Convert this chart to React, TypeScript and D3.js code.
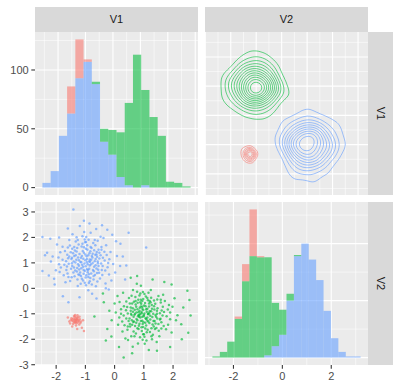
import React, { useEffect, useRef } from 'react'
import { contourDensity, extent, geoPath, max, range, scaleLinear, select } from 'd3'

// histogram counts (stacked: blue bottom, green, red top)
const v1BinStart = -2.57
const v1BinWidth = 0.3
const v1Blue = [4, 14, 44, 63, 93, 107, 88, 39, 28, 9, 2, 0, 2, 0, 0, 0, 0, 0]
const v1Green = [0, 0, 0, 0, 0, 0, 2, 11, 21, 38, 70, 113, 81, 60, 44, 5, 4, 1]
const v1Red = [0, 0, 0, 23, 33, 2, 0, 0, 0, 0, 0, 0, 0, 0, 0, 0, 0, 0]

const v2BinStart = -2.86
const v2BinWidth = 0.303
const v2Blue = [0, 0, 0, 0, 0, 0, 0, 2, 10, 20, 50, 89, 100, 86, 68, 41, 17, 5, 1, 1]
const v2Green = [1, 5, 14, 34, 67, 89, 88, 86, 38, 22, 6, 1, 0, 0, 0, 0, 0, 0, 0, 0]
const v2Red = [0, 0, 0, 2, 15, 41, 1, 0, 0, 0, 0, 0, 0, 0, 0, 0, 0, 0, 0, 0]

// points as [V1, V2]
const bluePts = [
  [-0.95, 1.02], [-1.21, 0.74], [-0.62, 1.33], [-1.48, 1.15], [-0.83, 0.41], [-1.05, 1.61], [-0.41, 0.88], [-1.72, 0.93], [-0.98, 0.12], [-1.33, 1.84],
  [-0.71, 0.67], [-1.12, 1.27], [-0.55, 1.52], [-1.61, 0.58], [-0.89, 1.91], [-1.27, 0.35], [-0.34, 1.09], [-1.86, 1.42], [-0.77, -0.21], [-1.04, 2.21],
  [-1.39, 0.82], [-0.68, 1.06], [-0.19, 0.54], [-1.53, 1.68], [-0.92, 0.63], [-1.17, 1.03], [-0.48, 2.03], [-2.01, 0.71], [-0.86, 1.38], [-1.26, 0.09],
  [-0.59, 0.27], [-1.44, 2.12], [-0.99, 0.87], [-0.27, 1.31], [-1.68, 0.24], [-1.09, 1.47], [-0.73, 1.78], [-1.92, 1.21], [-0.44, 0.72], [-1.31, 1.12],
  [-0.81, 0.95], [-1.15, 0.48], [-0.63, 2.33], [-1.57, 0.97], [-0.05, 0.96], [-1.36, 1.49], [-0.88, 0.21], [-2.18, 1.05], [-0.52, 1.17], [-1.02, 0.68],
  [-1.23, 1.72], [-0.67, 0.52], [-1.78, 1.63], [-0.96, 1.26], [-0.31, 0.19], [-1.47, 0.44], [-0.79, 1.58], [-1.11, 0.93], [-0.14, 1.43], [-1.62, 1.32],
  [-0.9, -0.08], [-1.29, 0.66], [-0.57, 0.99], [-2.07, 0.38], [-0.85, 1.13], [-1.19, 2.45], [-0.45, 1.62], [-1.41, 0.62], [-1.01, 1.81], [-0.7, 0.85],
  [-1.55, 1.9], [-0.24, 0.83], [-1.08, 0.31], [-0.6, 1.24], [-1.84, 0.82], [-0.93, 1.52], [-1.34, 1.01], [-0.38, 1.98], [-1.66, 1.06], [-0.8, 0.58],
  [-1.2, 1.35], [0.08, 1.27], [-0.99, 0.43], [-1.49, 0.77], [-0.66, 1.69], [-2.31, 1.4], [-0.87, 0.77], [-1.13, 1.64], [-0.5, 0.39], [-1.38, 1.27],
  [-0.76, 1.21], [-1.03, 0.98], [-1.24, 0.54], [-0.35, 1.44], [-1.74, 0.51], [-0.97, 2.02], [-0.64, 0.08], [-1.45, 1.55], [-0.18, 1.14], [-1.16, 0.18],
  [-0.83, 1.46], [-1.59, 1.18], [-0.46, 0.98], [-1.07, 1.16], [-0.72, 0.35], [-1.97, 1.72], [-0.91, 0.72], [-1.3, 2.01], [-0.58, 1.87], [-1.22, 0.89],
  [0.02, 0.62], [-1.52, 0.29], [-0.84, 1.04], [-1.06, 0.57], [-0.29, 1.69], [-1.42, 1.38], [-0.75, 1.36], [-1.88, 0.64], [-0.94, 1.69], [-0.53, 0.61],
  [-1.28, 1.58], [-0.11, 0.31], [-1.63, 0.86], [-1.0, 1.33], [-0.65, 0.91], [-1.37, 0.47], [-0.82, 2.18], [-1.14, 0.79], [-0.42, 0.52], [-2.12, 1.25],
  [-0.97, 0.51], [-1.25, 1.21], [-0.61, 1.43], [-1.7, 1.47], [-0.87, 1.05], [0.19, 0.88], [-1.1, 2.05], [-0.56, 0.73], [-1.46, 0.99], [-0.78, 0.15],
  [-1.0, 1.1], [-0.85, 0.9], [-1.15, 1.2], [-0.75, 1.0], [-1.25, 0.95], [-0.95, 0.75], [-1.05, 1.4], [-0.65, 1.15], [-1.35, 0.7], [-0.9, 1.3],
  [-1.18, 0.62], [-0.72, 0.48], [-1.4, 1.05], [-0.58, 1.05], [-1.08, 0.85], [-0.82, 1.62], [-1.3, 1.45], [-0.48, 1.3], [-1.55, 1.25], [-0.98, 1.55],
  [-1.12, 0.38], [-0.62, 0.78], [-1.45, 0.88], [-0.88, 0.55], [-1.22, 1.1], [-0.78, 1.27], [-1.02, 1.92], [-0.4, 1.2], [-1.65, 0.72], [-0.92, 0.95],
  [-1.28, 0.8], [-0.7, 1.5], [-1.5, 1.42], [-0.55, 0.88], [-1.1, 1.75], [-0.85, 0.28], [-1.38, 1.62], [-0.32, 0.7], [-1.78, 1.12], [-0.95, 1.15],
  [-1.2, 0.52], [-0.68, 1.9], [-1.58, 0.45], [-0.45, 1.52], [-1.06, 0.72], [-0.8, 1.12], [-1.33, 1.3], [-0.6, 0.6], [-1.9, 0.95], [-0.98, 1.82],
  [-1.14, 1.02], [-0.74, 0.72], [-1.46, 1.2], [-0.52, 1.4], [-1.26, 1.9], [-0.9, 0.45], [-1.6, 1.6], [-0.22, 1.0], [-1.02, 0.22], [-0.66, 1.32],
  [-2.47, 2.02], [-2.47, 0.68], [0.48, 2.18], [1.08, 1.6], [-1.41, 3.1], [-1.58, -0.55], [-1.77, -0.31], [-2.38, 1.3], [-0.86, 2.55], [0.28, 1.25],
  [0.36, 0.35], [-0.2, -0.05], [-0.43, 2.48], [-2.25, 0.5], [-1.9, 2.0], [-0.08, 2.1], [0.2, 1.75], [-1.2, -0.35], [-0.62, -0.4], [-2.2, 1.95],
  [-1.6, 2.35], [-0.3, 0.0], [0.05, 1.85], [-2.05, 0.15], [-1.05, 2.65], [0.4, 0.9], [-0.25, 2.3],
]

const greenPts = [
  [0.93, -0.98], [1.18, -0.71], [0.64, -1.32], [1.42, -1.12], [0.81, -0.45], [1.05, -1.58], [0.39, -0.86], [1.69, -0.93], [0.97, -0.14], [1.31, -1.82],
  [0.72, -0.63], [1.12, -1.26], [0.53, -1.5], [1.58, -0.56], [0.87, -1.92], [1.25, -0.37], [0.31, -1.07], [1.83, -1.43], [0.76, 0.18], [1.03, -2.18],
  [1.36, -0.83], [0.68, -1.04], [0.17, -0.54], [1.51, -1.67], [0.91, -0.61], [1.15, -1.02], [0.46, -2.03], [1.98, -0.72], [0.85, -1.39], [1.24, -0.07],
  [0.58, -0.29], [1.44, -2.11], [0.98, -0.85], [0.26, -1.3], [1.66, -0.25], [1.08, -1.46], [0.73, -1.77], [1.9, -1.21], [0.43, -0.73], [1.29, -1.13],
  [0.82, -0.94], [1.14, -0.47], [0.62, -2.29], [1.55, -0.98], [0.04, -0.95], [1.34, -1.5], [0.88, -0.2], [2.15, -1.06], [0.51, -1.18], [1.01, -0.67],
  [1.21, -1.71], [0.66, -0.53], [1.76, -1.61], [0.95, -1.27], [0.29, -0.17], [1.46, -0.44], [0.78, -1.57], [1.1, -0.92], [0.12, -1.43], [1.6, -1.33],
  [0.9, 0.1], [1.27, -0.65], [0.56, -1.0], [2.05, -0.39], [0.84, -1.12], [1.17, -2.42], [0.44, -1.63], [1.39, -0.61], [1.0, -1.8], [0.69, -0.84],
  [1.53, -1.88], [0.22, -0.82], [1.07, -0.32], [0.59, -1.25], [1.82, -0.83], [0.92, -1.53], [1.32, -1.0], [0.37, -1.97], [1.64, -1.07], [0.79, -0.57],
  [1.19, -1.36], [-0.1, -1.25], [0.98, -0.42], [1.47, -0.78], [0.65, -1.7], [2.28, -1.41], [0.86, -0.76], [1.13, -1.63], [0.49, -0.38], [1.37, -1.28],
  [0.75, -1.2], [1.02, -0.99], [1.23, -0.55], [0.34, -1.45], [1.72, -0.5], [0.96, -2.02], [0.63, -0.07], [1.43, -1.56], [0.16, -1.15], [1.16, -0.17],
  [0.83, -1.47], [1.57, -1.19], [0.45, -0.99], [1.06, -1.17], [0.71, -0.34], [1.95, -1.73], [0.9, -0.71], [1.28, -2.0], [0.57, -1.88], [1.2, -0.9],
  [0.0, -0.6], [1.5, -0.3], [0.82, -1.05], [1.04, -0.58], [0.27, -1.7], [1.4, -1.38], [0.74, -1.35], [1.86, -0.65], [0.93, -1.68], [0.52, -0.6],
  [1.26, -1.57], [0.1, -0.3], [1.61, -0.87], [0.99, -1.33], [0.63, -0.92], [1.35, -0.48], [0.8, -2.17], [1.12, -0.8], [0.4, -0.52], [2.1, -1.25],
  [0.95, -0.5], [1.22, -1.22], [0.6, -1.43], [1.68, -1.48], [0.85, -1.05], [-0.18, -0.88], [1.09, -2.05], [0.55, -0.75], [1.45, -1.0], [0.77, -0.13],
  [0.88, -1.15], [1.0, -1.1], [0.7, -1.0], [1.15, -1.3], [0.95, -0.8],
  [1.0, -1.05], [0.85, -0.88], [1.12, -1.15], [0.75, -0.95], [1.25, -0.9], [0.95, -0.72], [1.05, -1.35], [0.65, -1.12], [1.35, -0.7], [0.9, -1.28],
  [1.18, -0.6], [0.72, -0.5], [1.4, -1.05], [0.58, -1.05], [1.08, -0.82], [0.82, -1.6], [1.3, -1.42], [0.48, -1.28], [1.55, -1.22], [0.98, -1.52],
  [1.12, -0.38], [0.62, -0.78], [1.45, -0.88], [0.88, -0.55], [1.22, -1.08], [0.78, -1.25], [1.02, -1.9], [0.4, -1.18], [1.65, -0.72], [0.92, -0.92],
  [1.28, -0.8], [0.7, -1.48], [1.5, -1.4], [0.55, -0.88], [1.1, -1.72], [0.85, -0.28], [1.38, -1.6], [0.32, -0.7], [1.78, -1.1], [0.95, -1.12],
  [1.2, -0.5], [0.68, -1.88], [1.58, -0.45], [0.45, -1.5], [1.06, -0.7], [0.8, -1.1], [1.33, -1.28], [0.6, -0.6], [1.9, -0.95], [0.98, -1.8],
  [1.14, -1.0], [0.74, -0.72], [1.46, -1.18], [0.52, -1.4], [1.26, -1.88], [0.9, -0.45], [1.6, -1.58], [0.22, -1.0], [1.02, -0.22], [0.66, -1.3],
  [0.88, -1.0], [1.08, -1.2], [0.78, -0.82], [1.18, -0.98], [0.96, -1.4],
  [0.31, -2.72], [2.6, -1.07], [2.56, -0.46], [2.49, -0.09], [2.52, -1.74], [-0.69, -1.11], [0.77, 0.48], [-0.11, -1.89], [-0.37, -0.55], [0.55, 0.42],
  [1.7, 0.25], [1.95, 0.15], [-0.25, -1.6], [0.15, -2.3], [1.45, -2.45], [2.3, -2.0], [0.6, -2.55], [1.9, -2.3], [-0.4, -0.2], [1.3, 0.35],
  [2.35, -0.75], [-0.3, -2.05],
]

const redPts = [
  [-1.33, -1.25], [-1.28, -1.19], [-1.4, -1.31], [-1.22, -1.28], [-1.36, -1.12], [-1.3, -1.37], [-1.45, -1.22], [-1.25, -1.33], [-1.38, -1.24], [-1.31, -1.15],
  [-1.19, -1.21], [-1.42, -1.4], [-1.34, -1.3], [-1.27, -1.06], [-1.48, -1.17], [-1.21, -1.42], [-1.35, -1.2], [-1.29, -1.27], [-1.39, -1.09], [-1.24, -1.23],
  [-1.32, -1.46], [-1.15, -1.3], [-1.44, -1.28], [-1.37, -1.35], [-1.26, -1.14], [-1.5, -1.25], [-1.3, -1.22], [-1.17, -1.36], [-1.41, -1.18], [-1.33, -1.33],
  [-1.55, -1.3], [-1.08, -1.25], [-1.12, -1.55], [-1.05, -1.68], [-1.6, -1.15], [-1.35, -1.05], [-1.45, -1.5], [-1.2, -1.12], [-1.28, -1.6], [-1.52, -1.38],
]

const v1Ticks = [-2, -1, 0, 1, 2]
const v2Ticks = [-3, -2, -1, 0, 1, 2, 3]
const v2HistTicks = [-2, 0, 2]
const countTicks = [0, 50, 100]

const RED = '#F8766D'
const GREEN = '#00BA38'
const BLUE = '#619CFF'

const App = () => {
  const ref = useRef(null)

  useEffect(() => {
    main()
  }, [])

  const main = () => {
    const svg = select(ref.current)
    svg.selectAll('*').remove()
    svg.attr('width', 400).attr('height', 392)
    svg.append('rect').attr('width', 400).attr('height', 392).attr('fill', 'white')

    const font = 'Liberation Sans, Arial, Helvetica, sans-serif'
    const L1 = 35, R1 = 198, L2 = 205, R2 = 368
    const T1 = 32, B1 = 195, T2 = 202, B2 = 365

    const expand = ([a, b]) => {
      const d = (b - a) * 0.05
      return [a - d, b + d]
    }

    const allPts = [...bluePts, ...greenPts, ...redPts]
    const v1Dom = expand(extent(allPts, (d) => d[0]))
    const v2Dom = expand(extent(allPts, (d) => d[1]))
    const v1HistDom = expand([v1BinStart, v1BinStart + v1Blue.length * v1BinWidth])
    const v2HistDom = expand([v2BinStart, v2BinStart + v2Blue.length * v2BinWidth])
    const max1 = max(v1Blue.map((b, i) => b + v1Green[i] + v1Red[i]))
    const max2 = max(v2Blue.map((b, i) => b + v2Green[i] + v2Red[i]))

    const x11 = scaleLinear().domain(v1HistDom).range([L1, R1])
    const y11 = scaleLinear().domain(expand([0, max1])).range([B1, T1])
    const x12 = scaleLinear().domain(v2Dom).range([L2, R2])
    const y12 = scaleLinear().domain(v1Dom).range([B1, T1])
    const x21 = scaleLinear().domain(v1Dom).range([L1, R1])
    const y21 = scaleLinear().domain(v2Dom).range([B2, T2])
    const x22 = scaleLinear().domain(v2HistDom).range([L2, R2])
    const y22 = scaleLinear().domain(expand([0, max2])).range([B2, T2])

    const steps = (dom, step) => {
      const out = []
      for (let v = Math.ceil(dom[0] / step) * step; v <= dom[1]; v += step) out.push(+v.toFixed(3))
      return out
    }
    const halves = (dom) => steps(dom, 0.5).filter((v) => v % 1 !== 0)

    const panel = (id, xs, ys, xMaj, xMin, yMaj, yMin) => {
      const [x0, x1] = xs.range()
      const [y1, y0] = ys.range()
      svg.append('clipPath').attr('id', id)
        .append('rect').attr('x', x0).attr('y', y0).attr('width', x1 - x0).attr('height', y1 - y0)
      svg.append('rect').attr('x', x0).attr('y', y0).attr('width', x1 - x0).attr('height', y1 - y0)
        .attr('fill', '#EBEBEB')
      const g = svg.append('g')
      const inX = (v) => v >= xs.domain()[0] && v <= xs.domain()[1]
      const inY = (v) => v >= ys.domain()[0] && v <= ys.domain()[1]
      const vline = (v, w) => g.append('line').attr('x1', xs(v)).attr('x2', xs(v)).attr('y1', y0).attr('y2', y1)
        .attr('stroke', 'white').attr('stroke-width', w)
      const hline = (v, w) => g.append('line').attr('y1', ys(v)).attr('y2', ys(v)).attr('x1', x0).attr('x2', x1)
        .attr('stroke', 'white').attr('stroke-width', w)
      xMin.filter(inX).forEach((v) => vline(v, 0.55))
      yMin.filter(inY).forEach((v) => hline(v, 0.55))
      xMaj.filter(inX).forEach((v) => vline(v, 1.1))
      yMaj.filter(inY).forEach((v) => hline(v, 1.1))
      return svg.append('g').attr('clip-path', `url(#${id})`)
    }

    const p11 = panel('p11', x11, y11, steps(v1HistDom, 1), halves(v1HistDom), countTicks, [25, 75, 125])
    const p12 = panel('p12', x12, y12, steps(v2Dom, 1), halves(v2Dom), steps(v1Dom, 1), halves(v1Dom))
    const p21 = panel('p21', x21, y21, v1Ticks, halves(v1Dom), v2Ticks, halves(v2Dom))
    const p22 = panel('p22', x22, y22, v2HistTicks, [-3, -1, 1, 3], countTicks, [25, 75, 125])

    // stacked histograms
    const stack = (g, xs, ys, start, width, layers) => {
      const n = layers[0][0].length
      for (let i = 0; i < n; i++) {
        let base = 0
        layers.forEach(([vals, col]) => {
          const v = vals[i]
          if (v > 0) {
            g.append('rect')
              .attr('x', xs(start + i * width))
              .attr('width', xs(start + (i + 1) * width) - xs(start + i * width))
              .attr('y', ys(base + v))
              .attr('height', ys(base) - ys(base + v))
              .attr('fill', col)
              .attr('fill-opacity', 0.58)
          }
          base += v
        })
      }
    }
    stack(p11, x11, y11, v1BinStart, v1BinWidth, [[v1Blue, BLUE], [v1Green, GREEN], [v1Red, RED]])
    stack(p22, x22, y22, v2BinStart, v2BinWidth, [[v2Blue, BLUE], [v2Green, GREEN], [v2Red, RED]])

    // scatter
    ;[[redPts, RED], [greenPts, GREEN], [bluePts, BLUE]].forEach(([pts, col]) => {
      p21.selectAll(null)
        .data(pts)
        .enter()
        .append('circle')
        .attr('cx', (d) => x21(d[0]))
        .attr('cy', (d) => y21(d[1]))
        .attr('r', 1.25)
        .attr('fill', col)
        .attr('fill-opacity', 0.65)
    })

    // 2d density contours, x = V2, y = V1
    const cw = R2 - L2, ch = B1 - T1
    const cg = p12.append('g').attr('transform', `translate(${L2},${T1})`)
    ;[[greenPts, GREEN, 12, 5.5, 1.4], [bluePts, BLUE, 10, 5.5, 1.4], [redPts, RED, 6, 1.6, 1]].forEach(([pts, col, n, bw, lo]) => {
      const dens = contourDensity()
        .x((d) => x12(d[1]) - L2)
        .y((d) => y12(d[0]) - T1)
        .size([cw, ch])
        .cellSize(2)
        .bandwidth(bw)
      let polys
      if (typeof dens.contours === 'function') {
        const c = dens.contours(pts)
        polys = range(n).map((i) => c((c.max * (lo + i)) / (n + lo)))
      } else {
        polys = dens.thresholds(n)(pts)
      }
      cg.selectAll(null)
        .data(polys)
        .enter()
        .append('path')
        .attr('d', geoPath())
        .attr('fill', 'none')
        .attr('stroke', col)
        .attr('stroke-opacity', 0.75)
        .attr('stroke-width', 0.8)
    })

    // strips
    const strip = (x, y, w, h, label, rot) => {
      svg.append('rect').attr('x', x).attr('y', y).attr('width', w).attr('height', h).attr('fill', '#D9D9D9')
      svg.append('text')
        .attr('transform', `translate(${x + w / 2},${y + h / 2}) rotate(${rot})`)
        .attr('text-anchor', 'middle')
        .attr('dy', '0.35em')
        .attr('font-family', font)
        .attr('font-size', 11)
        .attr('fill', '#1A1A1A')
        .text(label)
    }
    strip(L1, 7, R1 - L1, T1 - 7, 'V1', 0)
    strip(L2, 7, R2 - L2, T1 - 7, 'V2', 0)
    strip(R2, T1, 25, B1 - T1, 'V1', 90)
    strip(R2, T2, 25, B2 - T2, 'V2', 90)

    // axes
    const leftAxis = (ys, ticks) => {
      ticks.forEach((t) => {
        svg.append('line').attr('x1', L1 - 3.7).attr('x2', L1).attr('y1', ys(t)).attr('y2', ys(t))
          .attr('stroke', '#333333').attr('stroke-width', 1.07)
        svg.append('text').attr('x', L1 - 6.3).attr('y', ys(t)).attr('dy', '0.35em')
          .attr('text-anchor', 'end').attr('font-family', font).attr('font-size', 11)
          .attr('fill', '#4D4D4D').text(t)
      })
    }
    const bottomAxis = (xs, ticks) => {
      ticks.forEach((t) => {
        svg.append('line').attr('y1', B2).attr('y2', B2 + 3.7).attr('x1', xs(t)).attr('x2', xs(t))
          .attr('stroke', '#333333').attr('stroke-width', 1.07)
        svg.append('text').attr('x', xs(t)).attr('y', B2 + 6.3).attr('dy', '0.75em')
          .attr('text-anchor', 'middle').attr('font-family', font).attr('font-size', 11)
          .attr('fill', '#4D4D4D').text(t)
      })
    }
    leftAxis(y11, countTicks)
    leftAxis(y21, v2Ticks)
    bottomAxis(x21, v1Ticks)
    bottomAxis(x22, v2HistTicks)
  }

  return (
    <div style={{ position: 'absolute', left: 0, top: 0 }}>
      <svg ref={ref} style={{ display: 'block' }}></svg>
    </div>
  )
}

export default App
